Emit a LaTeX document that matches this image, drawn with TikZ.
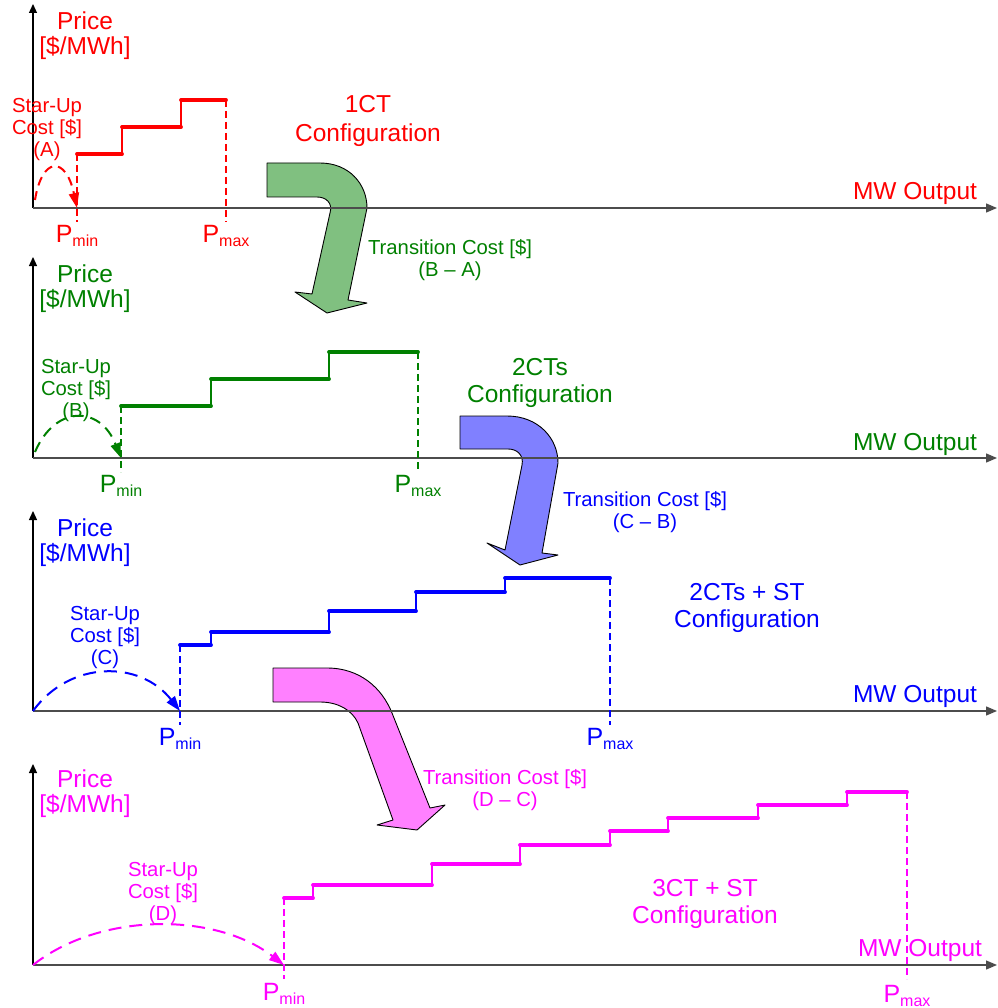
\documentclass[tikz,border=0pt]{standalone}
\usepackage{fontspec}
\setmainfont{Liberation Sans}
\usetikzlibrary{arrows.meta, positioning}

\definecolor{cfgred}{RGB}{255,0,0}
\definecolor{cfggreen}{RGB}{0,128,0}
\definecolor{cfgblue}{RGB}{0,0,255}
\definecolor{cfgmag}{RGB}{255,0,255}
\definecolor{fillgreen}{RGB}{128,192,128}
\definecolor{fillblue}{RGB}{128,128,255}
\definecolor{fillmag}{RGB}{255,128,255}

\newcommand{\bigtxt}{\fontsize{24.5}{27}\selectfont}
\newcommand{\smalltxt}{\fontsize{20.3}{22}\selectfont}
\newcommand{\plabel}[1]{\fontsize{25}{25}\selectfont P\raisebox{-4pt}{\fontsize{16}{16}\selectfont #1}}

\begin{document}
\begin{tikzpicture}[x=1pt, y=-1pt,
    yaxis/.style={draw=black, line width=1.3pt, -{Triangle[length=9pt,width=8pt]}},
    xaxis/.style={draw=black!70, line width=1.3pt, -{Triangle[length=11pt,width=9pt]}},
    tread/.style={line width=3.8pt, line cap=round},
    riser/.style={line width=1.4pt},
    pline/.style={line width=1.5pt, dash pattern=on 7pt off 4pt},
    startup/.style={line width=2pt, dash pattern=on 13pt off 8pt, -{Triangle[length=15pt,width=10pt]}},
    price/.style={align=center, font=\bigtxt},
    cfg/.style={align=center, font=\bigtxt},
    cost/.style={align=center, font=\smalltxt},
    pname/.style={anchor=base, inner sep=0pt},
    bent/.style={draw=black, line width=0.9pt, line join=round}
]
\useasboundingbox (0,0) rectangle (997,1008);

% Transition arrows
\draw[bent, fill=fillgreen] (267,163) -- (320,163) .. controls (349,163) and (367,184) .. (367,208)
    -- (348,300) -- (367,303) -- (327,313) -- (295,292) -- (312,294) -- (330,213)
    .. controls (333,203) and (326,197) .. (317,197) -- (267,197) -- cycle;
\draw[bent, fill=fillblue] (460,416) -- (507,416) .. controls (538,416) and (558,438) .. (558,463)
    -- (542,553) -- (558,555) -- (520,565) -- (487,543) -- (505,550) -- (522,465)
    .. controls (524,455) and (517,449) .. (508,449) -- (460,449) -- cycle;
\draw[bent, fill=fillmag] (273,668) -- (327,668) .. controls (360,668) and (382,688) .. (392,713)
    -- (430,808) -- (445,805) -- (417,830) -- (377,825) -- (393,820) -- (358,723)
    .. controls (352,710) and (338,702) .. (320,702) -- (273,702) -- cycle;

% Panel 1: 1CT
\coordinate (o1) at (33,208);
\coordinate (top1) at (33,4);
\coordinate (end1) at (997,208);
\coordinate (min1) at (77,208);
\draw[yaxis] (o1) -- (top1);
\draw[xaxis] (o1) -- (end1);
\draw[riser, cfgred] (77,154) -| (122,127) -| (181,100) -- (226,100);
\draw[tread, cfgred] (77,154) -- (122,154) (122,127) -- (181,127) (181,100) -- (226,100);
\draw[pline, cfgred] (77,154) -- (77,222);
\draw[pline, cfgred] (226,100) -- (226,222);
\draw[startup, cfgred, dash pattern=on 9pt off 6pt] (35,200) .. controls (42,156) and (66,156) .. (min1);
\node[price, cfgred] (price1) at (85,36) {Price\\[-2pt][\$/MWh]};
\node[cost, cfgred] (start1) at (47,130) {Star-Up\\Cost [\$]\\(A)};
\node[cfg, cfgred] (cfg1) at (368,121) {1CT\\[2pt]Configuration};
\node[font=\bigtxt, cfgred] (mw1) at (915,193) {MW Output};
\node[pname, cfgred] (pmin1) at (77,242) {\plabel{min}};
\node[pname, cfgred] (pmax1) at (226,242) {\plabel{max}};
\node[cost, cfggreen] (tc1) at (450,260) {Transition Cost [\$]\\(B -- A)};

% Panel 2: 2CTs
\coordinate (o2) at (33,458);
\coordinate (top2) at (33,257);
\coordinate (end2) at (997,458);
\coordinate (min2) at (121,458);
\draw[yaxis] (o2) -- (top2);
\draw[xaxis] (o2) -- (end2);
\draw[riser, cfggreen] (121,406) -| (211,379) -| (329,352) -- (418,352);
\draw[tread, cfggreen] (121,406) -- (211,406) (211,379) -- (329,379) (329,352) -- (418,352);
\draw[pline, cfggreen] (121,406) -- (121,472);
\draw[pline, cfggreen] (418,352) -- (418,472);
\draw[startup, cfggreen, dash pattern=on 11pt off 7pt] (35,452) .. controls (55,405) and (100,405) .. (min2);
\node[price, cfggreen] (price2) at (85,289) {Price\\[-2pt][\$/MWh]};
\node[cost, cfggreen] (start2) at (76,391) {Star-Up\\Cost [\$]\\(B)};
\node[cfg, cfggreen] (cfg2) at (540,383) {2CTs\\Configuration};
\node[font=\bigtxt, cfggreen] (mw2) at (915,444) {MW Output};
\node[pname, cfggreen] (pmin2) at (121,492) {\plabel{min}};
\node[pname, cfggreen] (pmax2) at (418,492) {\plabel{max}};
\node[cost, cfgblue] (tc2) at (645,512) {Transition Cost [\$]\\(C -- B)};

% Panel 3: 2CTs + ST
\coordinate (o3) at (33,711);
\coordinate (top3) at (33,511);
\coordinate (end3) at (997,711);
\coordinate (min3) at (180,711);
\draw[yaxis] (o3) -- (top3);
\draw[xaxis] (o3) -- (end3);
\draw[riser, cfgblue] (180,645) -| (211,632) -| (329,611) -| (416,592) -| (505,578) -- (610,578);
\draw[tread, cfgblue] (180,645) -- (211,645) (211,632) -- (329,632) (329,611) -- (416,611)
    (416,592) -- (505,592) (505,578) -- (610,578);
\draw[pline, cfgblue] (180,645) -- (180,725);
\draw[pline, cfgblue] (610,578) -- (610,725);
\draw[startup, cfgblue] (o3) .. controls (70,660) and (140,660) .. (min3);
\node[price, cfgblue] (price3) at (85,543) {Price\\[-2pt][\$/MWh]};
\node[cost, cfgblue] (start3) at (105,638) {Star-Up\\Cost [\$]\\(C)};
\node[cfg, cfgblue] (cfg3) at (747,608) {2CTs + ST\\Configuration};
\node[font=\bigtxt, cfgblue] (mw3) at (915,696) {MW Output};
\node[pname, cfgblue] (pmin3) at (180,745) {\plabel{min}};
\node[pname, cfgblue] (pmax3) at (610,745) {\plabel{max}};
\node[cost, cfgmag] (tc3) at (505,790) {Transition Cost [\$]\\(D -- C)};

% Panel 4: 3CT + ST
\coordinate (o4) at (33,965);
\coordinate (top4) at (33,764);
\coordinate (end4) at (997,965);
\coordinate (min4) at (284,965);
\draw[yaxis] (o4) -- (top4);
\draw[xaxis] (o4) -- (end4);
\draw[riser, cfgmag] (284,898) -| (313,885) -| (432,864) -| (520,845) -| (610,831)
    -| (668,818) -| (758,805) -| (847,792) -- (907,792);
\draw[tread, cfgmag] (284,898) -- (313,898) (313,885) -- (432,885) (432,864) -- (520,864)
    (520,845) -- (610,845) (610,831) -- (668,831) (668,818) -- (758,818)
    (758,805) -- (847,805) (847,792) -- (907,792);
\draw[pline, cfgmag] (284,898) -- (284,979);
\draw[pline, cfgmag] (907,792) -- (907,979);
\draw[startup, cfgmag] (o4) .. controls (100,912) and (215,912) .. (min4);
\node[price, cfgmag] (price4) at (85,794) {Price\\[-2pt][\$/MWh]};
\node[cost, cfgmag] (start4) at (163,894) {Star-Up\\Cost [\$]\\(D)};
\node[cfg, cfgmag] (cfg4) at (705,904) {3CT + ST\\Configuration};
\node[font=\bigtxt, cfgmag] (mw4) at (920,950) {MW Output};
\node[pname, cfgmag] (pmin4) at (284,1000) {\plabel{min}};
\node[pname, cfgmag] (pmax4) at (907,1002) {\plabel{max}};

\end{tikzpicture}
\end{document}
